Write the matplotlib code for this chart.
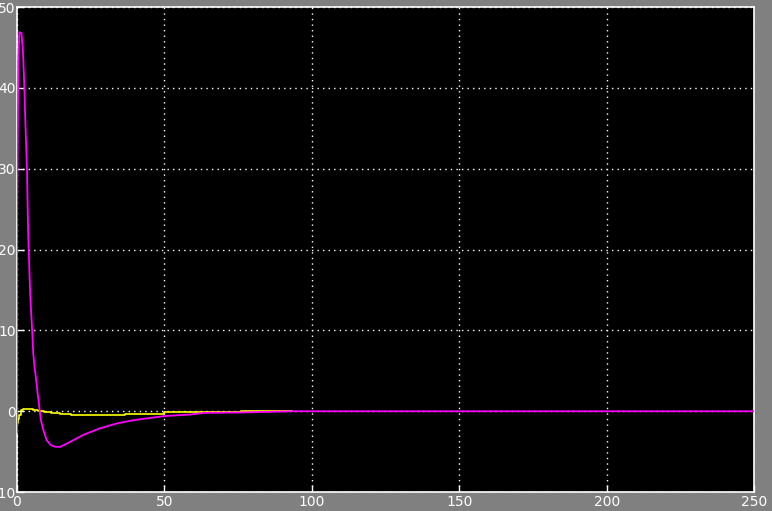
import numpy as np
import matplotlib
matplotlib.use('Agg')
import matplotlib.pyplot as plt

# magenta signal
t_mag = [0, 0, 0.45, 0.8, 1.5, 2.0, 2.4, 2.7, 3.1, 3.4, 3.6, 3.85, 4.2, 4.5, 4.86,
         5.2, 5.5, 6.0, 6.4, 6.7, 7.0, 7.4, 7.7, 8.1, 8.9, 10.1, 11.5, 13.0, 14.6,
         16.9, 22.6, 28.2, 33.9, 39.5, 49.8, 58.8, 63.3, 75.8, 93.4, 250]
v_mag = [-2.6, 22.5, 43.3, 46.9, 46.8, 44.7, 41.1, 37.4, 33.0, 29.8, 25.4, 21.5, 17.4, 14.3, 11.9,
         9.6, 7.2, 5.3, 4.2, 3.2, 2.2, 1.1, 0.1, -1.1, -2.3, -3.6, -4.2, -4.4, -4.4,
         -4.0, -2.9, -2.1, -1.5, -1.1, -0.6, -0.4, -0.2, -0.15, 0.0, 0.0]

# yellow signal (held values)
t_yel = [0, 0.4, 0.8, 1.25, 2.1, 5.5, 7.0, 9.3, 11.6, 14.6, 18.4, 36.7, 49.7, 63.0, 76.0, 87.0, 93.4]
v_yel = [-1.5, -1.0, -0.4, 0.1, 0.3, 0.15, 0.0, -0.1, -0.2, -0.3, -0.4, -0.3, -0.15, -0.05, 0.0, 0.05, 0.05]

xticks = [0, 50, 100, 150, 200, 250]
yticks = [-10, 0, 10, 20, 30, 40, 50]

fig = plt.figure(figsize=(7.72, 5.11), dpi=100, facecolor='#808080')
ax = fig.add_axes([0.022, 0.037, 0.955, 0.949], facecolor='black')

ax.plot(t_yel, v_yel, color='yellow', lw=1.2, drawstyle='steps-post', zorder=3)
ax.plot(t_mag, v_mag, color='magenta', lw=1.3, zorder=4)

ax.set_xlim(0, 250)
ax.set_ylim(-10, 50)
ax.set_xticks(xticks)
ax.set_yticks(yticks)
ax.grid(True, color='white', linestyle=(0, (1, 3)), linewidth=1)
for s in ax.spines.values():
    s.set_color('white')
    s.set_linewidth(1.2)
ax.tick_params(colors='white', direction='in', length=5, width=1, labelsize=10, pad=2)
ax.tick_params(axis='y', pad=1)

fig.savefig('out.png', dpi=100, facecolor=fig.get_facecolor())
